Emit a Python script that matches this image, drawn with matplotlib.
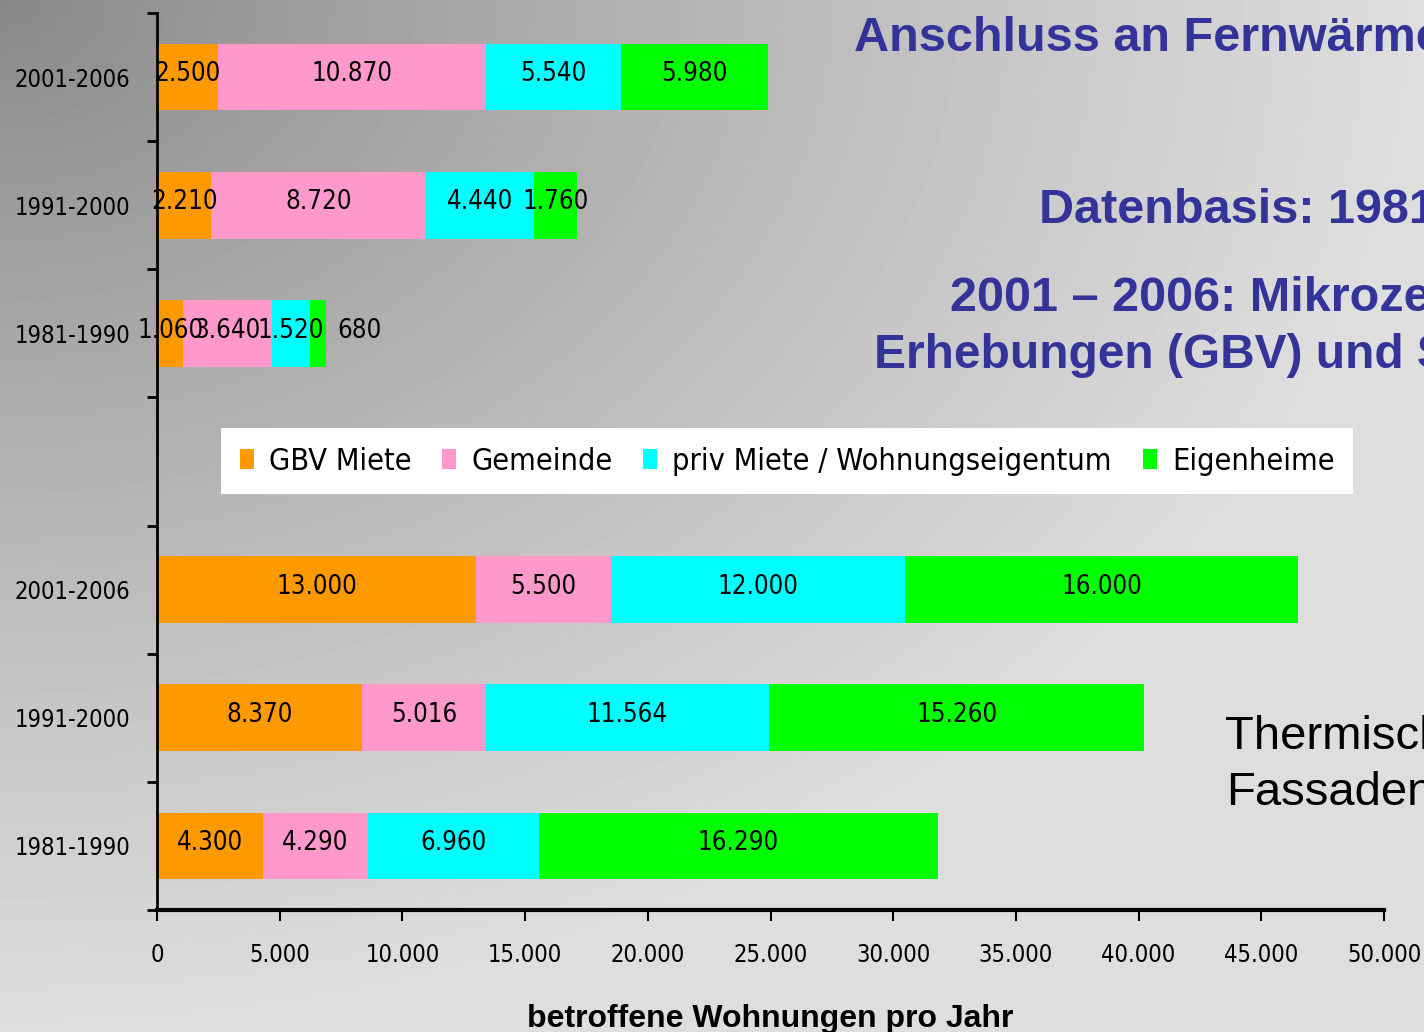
import numpy as np
import matplotlib
matplotlib.use("Agg")
import matplotlib.pyplot as plt
from matplotlib.patches import Patch
from matplotlib.font_manager import FontProperties

# ---------------- data ----------------
periods = ['1981-1990', '1991-2000', '2001-2006']
series_names = ['GBV Miete', 'Gemeinde', 'priv Miete / Wohnungseigentum', 'Eigenheime']
series_colors = ['#FF9900', '#FF99CC', '#00FFFF', '#00FF00']

# upper block (Anschluss an Fernwärme)
fern_gbv = [1060, 2210, 2500]
fern_gem = [3640, 8720, 10870]
fern_priv = [1520, 4440, 5540]
fern_eigen = [680, 1760, 5980]

# lower block (Thermische Sanierung / Fassaden)
therm_gbv = [4300, 8370, 13000]
therm_gem = [4290, 5016, 5500]
therm_priv = [6960, 11564, 12000]
therm_eigen = [16290, 15260, 16000]

x_ticks = list(range(0, 50001, 5000))

# ---------------- figure ----------------
W, H = 1424, 1032
fig = plt.figure(figsize=(W / 100, H / 100), dpi=100)

# background gradient (dark top-left, light towards right/bottom)
gh, gw = 258, 356
yy, xx = np.mgrid[0:gh, 0:gw]
r = np.sqrt((xx / (gw - 1)) ** 2 + (yy / (gh - 1)) ** 2)
r = np.clip(r, 0, 1)
vals = (0x88 + (0xDE - 0x88) * r ** 0.9) / 255.0
bg = fig.add_axes([0, 0, 1, 1], zorder=-10)
bg.imshow(vals, cmap='gray', vmin=0, vmax=1, extent=[0, 1, 0, 1],
          aspect='auto', origin='upper', interpolation='bilinear')
bg.axis('off')

def nfp(size):
    return FontProperties(family=['DejaVu Sans'], stretch='condensed', size=size)

sans = ['Liberation Sans', 'DejaVu Sans']

ax = fig.add_axes([157 / W, 1 - 910 / H, (1384 - 157) / W, (910 - 13) / H])
ax.patch.set_alpha(0)

therm_pos = [0, 1, 2]
fern_pos = [4, 5, 6]
bar_h = 0.52

def fmt(v):
    return f"{v:,}".replace(',', '.')

def draw_block(pos, series_list, small_outside=False):
    left = np.zeros(len(pos))
    for vals_s, col in zip(series_list, series_colors):
        vals_s = np.array(vals_s, dtype=float)
        ax.barh(pos, vals_s, left=left, height=bar_h, color=col, edgecolor='none', zorder=2)
        for p, l, v in zip(pos, left, vals_s):
            if small_outside and v < 1000:
                ax.annotate(fmt(int(v)), xy=(l + v, p), xytext=(8, 2),
                            textcoords='offset points', ha='left', va='center',
                            fontproperties=nfp(18.5), color='black', zorder=4)
            else:
                ax.annotate(fmt(int(v)), xy=(l + v / 2, p), xytext=(0, 2),
                            textcoords='offset points', ha='center', va='center',
                            fontproperties=nfp(18.5), color='black', zorder=4)
        left = left + vals_s

draw_block(therm_pos, [therm_gbv, therm_gem, therm_priv, therm_eigen])
draw_block(fern_pos, [fern_gbv, fern_gem, fern_priv, fern_eigen], small_outside=True)

ax.set_xlim(0, 50000)
ax.set_ylim(-0.5, 6.5)
ax.set_xticks(x_ticks)
ax.set_xticklabels([fmt(v) for v in x_ticks], fontproperties=nfp(17))
ax.tick_params(axis='x', direction='out', length=8, width=1.5, pad=16, colors='black')

ax.set_yticks(np.arange(-0.5, 7.0, 1.0))
ax.set_yticklabels([])
ax.tick_params(axis='y', which='major', direction='out', length=7, width=2)
ax.set_yticks(therm_pos + fern_pos, minor=True)
ax.set_yticklabels(periods + periods, minor=True, fontproperties=nfp(17))
ax.tick_params(axis='y', which='minor', length=0, pad=19)

for s in ['top', 'right']:
    ax.spines[s].set_visible(False)
ax.spines['left'].set_linewidth(2)
ax.spines['bottom'].set_linewidth(3)

fig.text(770 / W, 1 - 1027 / H, 'betroffene Wohnungen pro Jahr', ha='center',
         va='baseline', fontsize=23, fontweight='bold', family=sans, color='black')

# legend
handles = [Patch(facecolor=c, edgecolor='none') for c in series_colors]
leg = fig.legend(handles, series_names, loc='center',
                 bbox_to_anchor=(787 / W, 1 - 461 / H), ncol=4,
                 prop=nfp(22),
                 frameon=True, fancybox=False, framealpha=1, facecolor='white',
                 edgecolor='none', handlelength=0.46, handleheight=0.65,
                 handletextpad=0.5, columnspacing=1.0, borderpad=0.62)
leg.get_frame().set_linewidth(0)

# overlaid slide texts (clipped at the right edge)
blue = '#333399'
fig.text(854 / W, 1 - 51 / H, 'Anschluss an Fernwärme', ha='left', va='baseline',
         fontsize=35, fontweight='bold', family=sans, color=blue)
fig.text(1039 / W, 1 - 223 / H, 'Datenbasis: 1981 – 2000', ha='left', va='baseline',
         fontsize=35, fontweight='bold', family=sans, color=blue)
fig.text(950 / W, 1 - 311 / H, '2001 – 2006: Mikrozensus', ha='left', va='baseline',
         fontsize=35, fontweight='bold', family=sans, color=blue)
fig.text(874 / W, 1 - 368 / H, 'Erhebungen (GBV) und Schätzung', ha='left', va='baseline',
         fontsize=34.5, fontweight='bold', family=sans, color=blue)
fig.text(1225 / W, 1 - 749 / H, 'Thermische', ha='left', va='baseline',
         fontsize=34, family=sans, color='black')
fig.text(1226 / W, 1 - 805 / H, 'Fassaden', ha='left', va='baseline',
         fontsize=34, family=sans, color='black')

fig.savefig('out.png', dpi=100)
